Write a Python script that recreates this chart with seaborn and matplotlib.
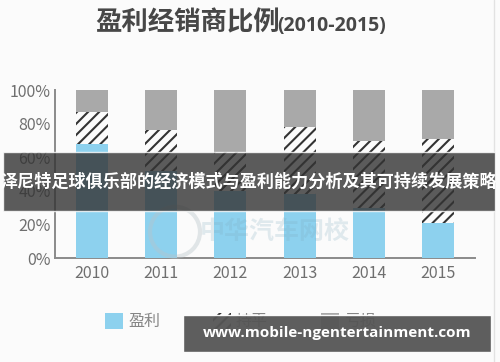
import matplotlib
matplotlib.use("Agg")
import matplotlib.pyplot as plt
import seaborn as sns
import pandas as pd
import numpy as np
from matplotlib.patches import Patch, Rectangle, Ellipse
from matplotlib.lines import Line2D

# ---- data ----
years = ["2010", "2011", "2012", "2013", "2014", "2015"]
profit = [68, 52, 40, 38, 30, 21]   # 盈利
flat = [19, 24, 23, 40, 40, 50]     # 持平
loss = [13, 24, 37, 22, 30, 29]     # 亏损
yticks = [0, 20, 40, 60, 80, 100]
legend_labels = ["盈利", "持平", "亏损"]
title_cn = "盈利经销商比例"
title_years = "(2010-2015)"
banner_text = "泽尼特足球俱乐部的经济模式与盈利能力分析及其可持续发展策略"
url_text = "www.mobile-ngentertainment.com"
watermark = "中华汽车网校"

sns.set_theme(style="white")
plt.rcParams["font.family"] = ["Noto Sans CJK SC", "DejaVu Sans"]
plt.rcParams["hatch.linewidth"] = 1.5
plt.rcParams["hatch.color"] = "#333333"

BLUE = "#8dd1ee"
GREY = "#a9a9a9"
BG = "#fbfbfb"
TXT = "#6f6f6f"

df = pd.DataFrame({"year": years, "profit": profit, "flat": flat, "loss": loss})
df["pf"] = df["profit"] + df["flat"]
df["total"] = df["pf"] + df["loss"]

fig = plt.figure(figsize=(5.0, 3.62), dpi=100, facecolor=BG)
ax = fig.add_axes([0.11, 0.287, 0.84, 0.464])
ax.set_facecolor(BG)

sns.barplot(data=df, x="year", y="total", color=GREY, saturation=1, width=0.46,
            errorbar=None, linewidth=0, ax=ax, zorder=2)
sns.barplot(data=df, x="year", y="pf", color=BG, saturation=1, width=0.46,
            errorbar=None, linewidth=0, edgecolor="#333333", hatch="///", ax=ax, zorder=3)
sns.barplot(data=df, x="year", y="profit", color=BLUE, saturation=1, width=0.46,
            errorbar=None, linewidth=0, ax=ax, zorder=4)

ax.set_xlim(-0.53, 5.53)
ax.set_ylim(0, 100)
ax.set_yticks(yticks)
ax.set_yticklabels([f"{v}%" for v in yticks])
ax.set_xlabel("")
ax.set_ylabel("")
ax.tick_params(axis="both", length=0, labelsize=11.5, colors=TXT, pad=3)
ax.tick_params(axis="x", pad=5)
for s in ["top", "right"]:
    ax.spines[s].set_visible(False)
for s in ["left", "bottom"]:
    ax.spines[s].set_color("#8a8a8a")
    ax.spines[s].set_linewidth(1.4)

# title
fig.text(0.19, 0.915, title_cn, fontsize=19, fontweight="bold", color="#474747",
         ha="left", va="baseline")
fig.text(0.555, 0.915, title_years, fontsize=14, fontweight="bold", color="#474747",
         ha="left", va="baseline", family="Open Sans")

# watermark
fig.text(0.55, 0.36, watermark, fontsize=18, color="#7fa9bd", alpha=0.22,
         ha="center", va="center", fontweight="bold")
fig.patches.append(Ellipse((0.35, 0.36), 0.1, 0.138, transform=fig.transFigure,
                           fill=False, ec="#b8c4ca", lw=3, alpha=0.4, zorder=5))

# right edge line
fig.add_artist(Line2D([0.987, 0.987], [0, 1], transform=fig.transFigure,
                      color="#e2e2e2", lw=1))

# legend
handles = [Patch(facecolor=BLUE, edgecolor="none", label=legend_labels[0]),
           Patch(facecolor=BG, edgecolor="#333333", hatch="///", lw=0, label=legend_labels[1]),
           Patch(facecolor=GREY, edgecolor="none", label=legend_labels[2])]
leg = fig.legend(handles=handles, loc="center", bbox_to_anchor=(0.481, 0.112), ncol=3,
                 frameon=False, fontsize=11.5, handlelength=1.15, handleheight=1.15,
                 handletextpad=0.3, columnspacing=3.3)
for t in leg.get_texts():
    t.set_color("#858585")

# overlay banner
fig.patches.append(Rectangle((0.006, 0.417), 0.984, 0.163, transform=fig.transFigure,
                             facecolor="#333333", alpha=0.8, zorder=10))
fig.text(0.497, 0.497, banner_text, fontsize=12.3, fontweight="bold", color="white",
         ha="center", va="center", zorder=11)

# url banner
fig.patches.append(Rectangle((0.366, 0.028), 0.616, 0.102, transform=fig.transFigure,
                             facecolor="#555555", alpha=0.95, zorder=10))
fig.text(0.674, 0.079, url_text, fontsize=11, fontweight="bold", color="white",
         ha="center", va="center", family="Open Sans", zorder=11)

fig.savefig("out.png", dpi=100, facecolor=BG)
